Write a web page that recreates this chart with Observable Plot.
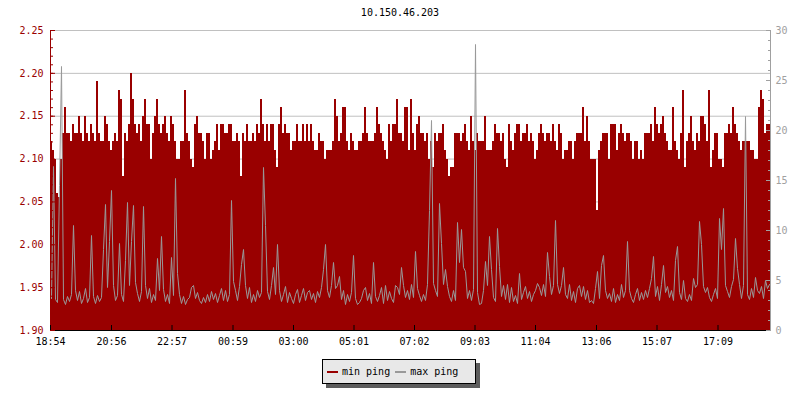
<!DOCTYPE html>
<html><head><meta charset="utf-8">
<script src="https://cdn.jsdelivr.net/npm/d3@7"></script>
<script src="https://cdn.jsdelivr.net/npm/@observablehq/plot@0.6"></script>
<style>
body{margin:0;background:#fff;}
#wrap{position:relative;width:800px;height:400px;font-family:"DejaVu Sans Mono",monospace;font-size:10px;color:#000;}
#chart{position:absolute;left:0;top:0;}
#title{position:absolute;left:0;top:7px;width:800px;text-align:center;line-height:12px;}
#legend{position:absolute;left:322px;top:359px;width:154px;height:25px;box-sizing:border-box;border:1px solid #000;background:#e8e8e8;box-shadow:4px 4px 0 #5c5c5c;display:flex;align-items:center;padding-left:4px;line-height:12px;}
.item{display:flex;align-items:center;margin-right:5px;}
.sw{display:inline-block;width:11px;height:2px;margin-right:4px;}
</style></head>
<body><div id="wrap"><div id="chart"></div><div id="title"></div><div id="legend"></div></div>
<script>
const title = "10.150.46.203";
const seriesNames = ["min ping", "max ping"];
const seriesColors = ["#990000", "#999999"];
const startLabel = "18:54";
const stepMinutes = 4;
const tickLabels = ["18:54","20:56","22:57","00:59","03:00","05:01","07:02","09:03","11:04","13:06","15:07","17:09"];
const leftTicks = [1.90,1.95,2.00,2.05,2.10,2.15,2.20,2.25];
const rightTicks = [0,5,10,15,20,25,30];

// min ping (ms), left axis, one value per 4 minutes
const minPing = [
2.12,2.11,2.10,2.06,2.055,2.10,2.13,2.16,2.13,2.13,
2.12,2.14,2.13,2.13,2.15,2.13,2.12,2.15,2.13,2.12,
2.14,2.13,2.12,2.19,2.13,2.12,2.12,2.15,2.14,2.12,
2.11,2.12,2.13,2.12,2.18,2.17,2.08,2.13,2.12,2.14,
2.20,2.17,2.14,2.13,2.14,2.12,2.15,2.17,2.14,2.14,
2.10,2.13,2.15,2.17,2.14,2.13,2.14,2.15,2.13,2.12,
2.15,2.14,2.12,2.10,2.10,2.12,2.12,2.18,2.13,2.12,
2.10,2.09,
2.14,2.15,2.13,2.13,2.12,2.10,2.13,2.13,2.10,2.11,
2.12,2.14,2.11,2.14,2.14,2.13,2.13,2.14,2.14,2.12,
2.12,2.13,2.12,2.08,2.13,2.12,2.14,2.12,2.12,2.13,
2.12,2.14,2.13,2.17,2.14,2.12,2.14,2.12,2.14,2.14,
2.11,2.09,2.14,2.16,2.13,2.14,2.13,2.13,2.11,2.12,
2.12,2.14,2.12,2.12,2.14,2.12,2.14,2.12,2.14,2.12,
2.11,2.11,2.13,2.12,2.12,2.10,2.11,2.11,2.11,2.12,
2.17,2.15,
2.12,2.13,2.16,2.16,2.12,2.11,2.13,2.12,2.11,2.11,
2.12,2.12,2.13,2.16,2.13,2.12,2.12,2.12,2.13,2.16,
2.14,2.13,2.12,2.11,2.10,2.14,2.12,2.14,2.14,2.17,
2.13,2.13,2.12,2.16,2.16,2.11,2.17,2.13,2.11,2.14,
2.15,2.13,2.13,2.12,2.13,2.10,2.12,2.09,2.13,2.12,
2.13,2.13,2.14,2.11,2.10,2.08,2.09,2.09,2.13,2.13,
2.13,2.12,2.13,2.14,2.12,2.11,2.15,2.12,2.11,2.13,
2.12,2.12,
2.12,2.15,2.11,2.11,2.11,2.12,2.14,2.13,2.13,2.12,
2.13,2.10,2.09,2.14,2.12,2.11,2.13,2.14,2.14,2.12,
2.13,2.13,2.14,2.12,2.13,2.12,2.10,2.11,2.13,2.14,
2.13,2.12,2.13,2.13,2.12,2.14,2.12,2.11,2.14,2.13,
2.10,2.11,2.11,2.12,2.12,2.10,2.12,2.13,2.13,2.13,
2.16,2.12,2.15,2.12,2.10,2.10,2.10,2.04,2.11,2.12,
2.13,2.13,2.13,2.10,2.14,2.14,2.14,2.11,2.13,2.14,
2.13,2.12,
2.13,2.13,2.12,2.10,2.12,2.12,2.10,2.11,2.10,2.13,
2.13,2.13,2.14,2.12,2.16,2.14,2.13,2.14,2.15,2.13,
2.12,2.11,2.11,2.16,2.12,2.11,2.10,2.13,2.18,2.09,
2.12,2.13,2.15,2.12,2.11,2.13,2.12,2.15,2.15,2.14,
2.12,2.18,2.09,2.11,2.13,2.13,2.10,2.10,2.09,2.13,
2.13,2.14,2.13,2.16,2.14,2.13,2.12,2.11,2.12,2.12,
2.12,2.12,2.11,2.11,2.10,2.10,2.16,2.18,2.17,2.13,
2.14,2.14
];

// max ping, right axis (0-30), one value per 4 minutes
const maxPing = [
3.2,16.4,3.1,2.8,14.5,26.4,3.1,2.6,3.4,2.9,
3.6,10.5,4.0,3.0,3.9,2.7,3.2,4.2,2.8,3.3,
9.5,3.4,2.7,3.5,2.9,3.3,8.1,12.6,4.3,8.9,
14.0,4.5,3.0,3.5,8.7,3.6,2.9,7.0,12.8,4.5,
8.9,12.5,4.8,3.7,2.9,3.9,12.4,4.5,3.2,4.2,
2.8,3.6,3.0,7.2,4.0,9.4,4.1,2.9,3.6,2.7,
7.3,3.5,15.2,5.7,3.6,2.7,3.4,2.6,3.1,3.3,
4.3,4.5,
3.2,3.8,3.0,2.7,3.3,2.8,3.6,2.9,3.9,3.1,
3.7,2.8,3.5,4.2,3.0,4.0,2.9,3.6,13.0,4.9,
4.0,3.0,4.4,6.6,8.1,4.5,3.2,4.3,2.8,3.6,
2.9,4.0,3.3,3.8,16.3,10.5,3.9,3.1,4.5,6.3,
3.6,8.6,4.0,2.9,3.6,4.4,2.8,3.8,3.2,2.7,
3.6,4.1,2.8,3.5,4.2,3.0,3.8,4.0,3.1,3.7,
2.8,3.9,3.3,4.3,6.1,8.6,4.0,3.3,4.5,6.8,
4.2,4.5,
5.4,3.1,4.0,2.6,3.6,2.9,3.8,7.5,3.2,2.6,
2.8,3.2,4.0,4.3,3.0,3.7,2.7,6.8,3.4,2.9,
3.5,4.3,2.7,4.5,3.0,3.9,3.2,2.8,4.5,4.3,
3.6,6.3,4.5,3.3,4.0,3.1,4.6,3.3,7.9,4.2,
3.5,2.9,3.6,3.0,4.6,12.0,21.0,4.7,4.0,3.4,
12.7,8.7,4.6,6.1,4.4,3.4,2.9,4.0,3.0,10.8,
6.8,10.1,6.3,5.9,3.2,4.0,3.0,4.1,28.6,3.8,
2.6,2.7,
4.0,6.9,4.5,9.4,6.1,3.3,2.9,10.2,6.4,3.4,
4.5,3.1,4.6,2.8,4.3,2.9,3.5,2.7,5.7,3.1,
3.8,4.4,3.2,3.9,2.9,3.6,4.0,4.7,4.3,3.5,
4.6,3.4,7.8,5.4,3.6,4.5,11.0,4.6,3.7,4.5,
6.3,3.6,3.2,4.6,3.0,3.9,2.8,4.2,4.5,3.4,
4.4,3.1,4.0,2.8,3.0,2.7,4.2,5.9,3.2,6.5,
7.5,4.0,3.2,3.7,2.9,4.2,2.8,3.6,3.0,4.6,
3.3,4.0,
8.9,4.0,3.2,2.8,3.6,4.2,3.0,3.8,3.1,4.0,
3.3,4.2,5.2,7.4,3.4,4.4,3.0,4.6,6.5,3.8,
4.4,3.3,4.0,3.0,7.0,8.4,3.8,3.1,5.0,3.2,
2.9,3.6,3.0,5.2,4.3,4.6,10.9,8.6,4.4,3.8,
4.3,3.3,2.9,3.6,4.2,3.2,11.2,8.1,12.2,4.5,
3.9,3.3,4.4,5.1,9.2,6.2,4.6,3.2,4.5,21.4,
3.6,3.1,4.2,3.3,5.3,4.0,3.7,4.4,3.2,5.0,
4.2,4.6
];

const RED = seriesColors[0], GRAY = seriesColors[1];
const yMin = leftTicks[0], yMax = leftTicks[leftTicks.length - 1];
const rMax = rightTicks[rightTicks.length - 1];
const toLeft = r => yMin + r * (yMax - yMin) / rMax;
const fromLeft = v => Math.round((v - yMin) * rMax / (yMax - yMin));

const MIN = 60000;
const [sh, sm] = startLabel.split(":").map(Number);
const t0 = Date.UTC(2024, 0, 1, sh, sm);
const step = stepMinutes * MIN;
const tEnd = new Date(t0 + minPing.length * step);
const rows = minPing.map((v, i) => ({
  t: new Date(t0 + i * step),
  t2: new Date(t0 + (i + 1) * step),
  tc: new Date(t0 + (i + 0.5) * step),
  min: v,
  max: maxPing[i]
}));
const tickDates = tickLabels.map(s => {
  const [h, m] = s.split(":").map(Number);
  let mins = h * 60 + m - (sh * 60 + sm);
  if (mins < 0) mins += 1440;
  return new Date(t0 + mins * MIN);
});
const leftMinor = d3.range(Math.round(yMin * 100), Math.round(yMax * 100) + 1).map(v => v / 100);
const rightMinor = d3.range(0, rMax + 1).map(toLeft);
const rightMajor = rightTicks.map(toLeft);

const chart = Plot.plot({
  width: 800, height: 400,
  marginLeft: 50, marginRight: 30, marginTop: 30, marginBottom: 70,
  style: {fontFamily: "'DejaVu Sans Mono', monospace", fontSize: "10px", background: "transparent", overflow: "visible"},
  x: {type: "utc", domain: [new Date(t0), tEnd]},
  y: {domain: [yMin, yMax]},
  marks: [
    Plot.gridY(leftTicks, {stroke: "#c0c0c0", strokeOpacity: 1}),
    Plot.rect(rows, {x1: "t", x2: "t2", y1: () => yMin, y2: "min", fill: RED, shapeRendering: "crispEdges"}),
    Plot.line(rows, {x: "tc", y: d => toLeft(d.max), stroke: GRAY, strokeWidth: 1, curve: "linear"}),
    Plot.ruleX([new Date(t0)], {stroke: RED}),
    Plot.ruleX([tEnd], {stroke: "#a0a0a0"}),
    Plot.ruleY([yMin], {stroke: "#000"}),
    Plot.axisY(leftTicks, {anchor: "left", tickSize: 0, tickPadding: 7, tickFormat: d3.format(".2f"), fill: RED, label: null}),
    Plot.axisY(leftTicks, {anchor: "left", tickSize: 5, dx: 5, stroke: RED, fill: "none", label: null}),
    Plot.axisY(leftMinor, {anchor: "left", tickSize: 3, dx: 3, stroke: RED, fill: "none", label: null}),
    Plot.axisY(rightMajor, {anchor: "right", tickSize: 0, tickPadding: 5, tickFormat: d => String(fromLeft(d)), fill: "#a0a0a0", label: null}),
    Plot.axisY(rightMajor, {anchor: "right", tickSize: 5, dx: -5, stroke: "#a0a0a0", fill: "none", label: null}),
    Plot.axisY(rightMinor, {anchor: "right", tickSize: 3, dx: -3, stroke: "#a0a0a0", fill: "none", label: null}),
    Plot.axisX(tickDates, {anchor: "bottom", tickSize: 5, dy: -5, stroke: "#000", fill: "none", label: null}),
    Plot.axisX(tickDates, {anchor: "bottom", tickSize: 0, tickPadding: 7, tickFormat: (d) => tickLabels[tickDates.findIndex(t => +t === +d)], fill: "#000", label: null})
  ]
});
document.getElementById("chart").appendChild(chart);
document.getElementById("title").textContent = title;
const legend = document.getElementById("legend");
seriesNames.forEach((name, i) => {
  const item = document.createElement("span");
  item.className = "item";
  const sw = document.createElement("span");
  sw.className = "sw";
  sw.style.background = seriesColors[i];
  item.appendChild(sw);
  item.appendChild(document.createTextNode(name));
  legend.appendChild(item);
});
</script></body></html>
